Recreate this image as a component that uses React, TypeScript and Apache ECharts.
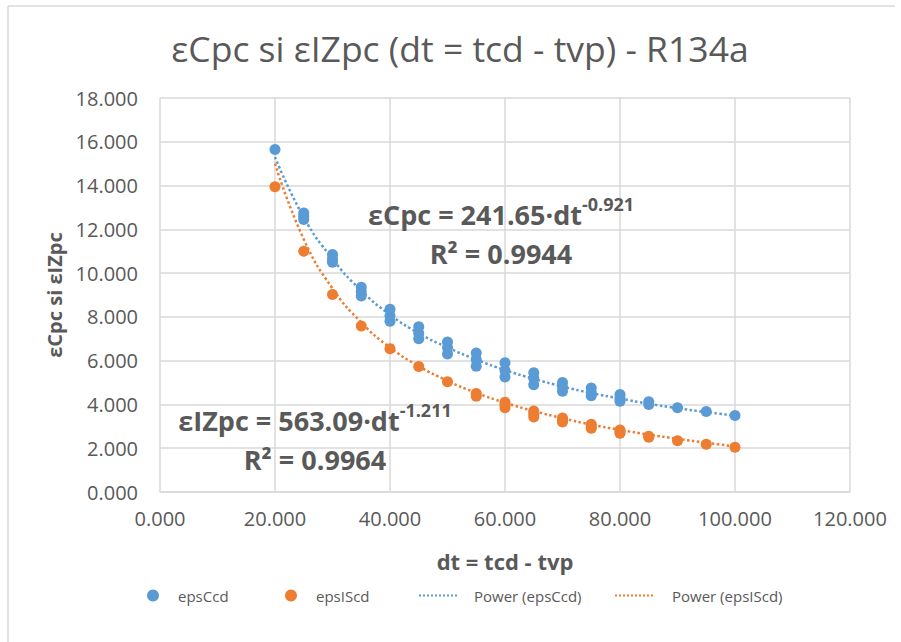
import React, { useEffect, useRef } from "react";
import * as echarts from "echarts";

const dtValues = [20, 25, 30, 35, 40, 45, 50, 55, 60, 65, 70, 75, 80, 85, 90, 95, 100];

const epsCcdGroups: number[][] = [
  [15.65],
  [12.45, 12.6, 12.75],
  [10.5, 10.65, 10.85],
  [8.95, 9.15, 9.35],
  [7.8, 8.05, 8.35],
  [7.0, 7.25, 7.55],
  [6.3, 6.6, 6.85],
  [5.75, 6.05, 6.35],
  [5.25, 5.55, 5.9],
  [4.9, 5.2, 5.45],
  [4.6, 4.8, 5.0],
  [4.4, 4.55, 4.75],
  [4.15, 4.3, 4.45],
  [4.0, 4.12],
  [3.85],
  [3.68],
  [3.5],
];

const epsIScdGroups: number[][] = [
  [13.95],
  [11.0],
  [9.02],
  [7.58],
  [6.55],
  [5.73],
  [5.04],
  [4.38, 4.5],
  [3.85, 3.98, 4.1],
  [3.43, 3.57, 3.7],
  [3.2, 3.3, 3.38],
  [2.91, 3.0, 3.1],
  [2.68, 2.76, 2.83],
  [2.5, 2.55],
  [2.34],
  [2.18],
  [2.04],
];

const powerCcd = [15.3, 12.55, 10.65, 9.2, 8.1, 7.25, 6.6, 6.05, 5.57, 5.17, 4.82, 4.52, 4.27, 4.03, 3.83, 3.65, 3.49];
const powerIScd = [15.0, 11.55, 9.3, 7.75, 6.6, 5.75, 5.08, 4.53, 4.08, 3.7, 3.37, 3.08, 2.84, 2.62, 2.43, 2.25, 2.08];

const xTicks = { min: 0, max: 120, interval: 20 };
const yTicks = { min: 0, max: 18, interval: 2 };

const titleText = "εCpc si εIZpc (dt = tcd - tvp) - R134a";
const xName = "dt = tcd - tvp";
const yName = "εCpc si εIZpc";
const seriesNames = ["epsCcd", "epsIScd", "Power (epsCcd)", "Power (epsIScd)"];
const eqCcd = ["εCpc = 241.65·dt", "-0.921", "R² = 0.9944"];
const eqIScd = ["εIZpc = 563.09·dt", "-1.211", "R² = 0.9964"];

const BLUE = "#5B9BD5";
const ORANGE = "#ED7D31";
const TXT = "#595959";
const GRID = "#d9d9d9";
const FONT = "'Open Sans', sans-serif";

function toPairs(groups: number[][]) {
  const out: number[][] = [];
  groups.forEach((g, i) => g.forEach((v) => out.push([dtValues[i], v])));
  return out;
}

export default function App() {
  const ref = useRef<HTMLDivElement>(null);
  useEffect(() => {
    document.body.style.margin = "0";
    if (!ref.current) return;
    const chart = echarts.init(ref.current, null, { renderer: "svg" });
    const legendBase = {
      orient: "horizontal",
      top: 588,
      padding: 0,
      itemWidth: 40,
      itemHeight: 12,
      textStyle: { color: TXT, fontSize: 15, fontFamily: FONT },
    };
    const richEq = {
      m: { fontSize: 27, fontWeight: "bold", fontFamily: FONT, fill: TXT, lineHeight: 39 },
      s: { fontSize: 18, fontWeight: "bold", fontFamily: FONT, fill: TXT, lineHeight: 36, verticalAlign: "top" },
    };
    chart.setOption({
      animation: false,
      backgroundColor: "#ffffff",
      title: {
        text: titleText,
        left: 455,
        top: 25,
        textAlign: "center",
        textStyle: { color: TXT, fontSize: 35.5, fontWeight: "normal", fontFamily: FONT },
      },
      grid: { left: 160, right: 51, top: 98, bottom: 150 },
      legend: [
        { ...legendBase, left: 147, data: [seriesNames[0]] },
        { ...legendBase, left: 285, data: [seriesNames[1]] },
        {
          ...legendBase,
          left: 418,
          data: [seriesNames[2]],
          itemStyle: { opacity: 0 },
          textStyle: { ...legendBase.textStyle, padding: [0, 0, 0, 10] },
        },
        {
          ...legendBase,
          left: 614,
          data: [seriesNames[3]],
          itemStyle: { opacity: 0 },
          textStyle: { ...legendBase.textStyle, padding: [0, 0, 0, 12] },
        },
      ],
      xAxis: {
        type: "value",
        min: xTicks.min,
        max: xTicks.max,
        interval: xTicks.interval,
        name: xName,
        nameLocation: "middle",
        nameGap: 58,
        nameTextStyle: { color: TXT, fontSize: 22, fontWeight: "bold", fontFamily: FONT },
        axisLine: { show: true, lineStyle: { color: GRID, width: 1.5 } },
        axisTick: { show: false },
        splitLine: { show: true, lineStyle: { color: GRID, width: 1.5 } },
        axisLabel: {
          color: TXT,
          fontSize: 20,
          fontFamily: FONT,
          margin: 16,
          formatter: (v: number) => v.toFixed(3),
        },
      },
      yAxis: {
        type: "value",
        min: yTicks.min,
        max: yTicks.max,
        interval: yTicks.interval,
        name: yName,
        nameLocation: "middle",
        nameGap: 92,
        nameTextStyle: { color: TXT, fontSize: 20, fontWeight: "bold", fontFamily: FONT },
        axisLine: { show: false },
        axisTick: { show: false },
        splitLine: { show: true, lineStyle: { color: GRID, width: 1.5 } },
        axisLabel: {
          color: TXT,
          fontSize: 20,
          fontFamily: FONT,
          margin: 22,
          formatter: (v: number) => v.toFixed(3),
        },
      },
      series: [
        {
          name: seriesNames[0],
          type: "scatter",
          data: toPairs(epsCcdGroups),
          symbol: "circle",
          symbolSize: 11,
          itemStyle: { color: BLUE, opacity: 1 },
          z: 5,
        },
        {
          name: seriesNames[1],
          type: "scatter",
          data: toPairs(epsIScdGroups),
          symbol: "circle",
          symbolSize: 11,
          itemStyle: { color: ORANGE, opacity: 1 },
          z: 5,
        },
        {
          name: seriesNames[2],
          type: "line",
          data: dtValues.map((d, i) => [d, powerCcd[i]]),
          smooth: true,
          symbol: "none",
          lineStyle: { color: BLUE, width: 2.5, type: "dotted" },
          itemStyle: { color: BLUE },
          z: 3,
        },
        {
          name: seriesNames[3],
          type: "line",
          data: dtValues.map((d, i) => [d, powerIScd[i]]),
          smooth: true,
          symbol: "none",
          lineStyle: { color: ORANGE, width: 2.5, type: "dotted" },
          itemStyle: { color: ORANGE },
          z: 3,
        },
      ],
      graphic: [
        { type: "line", shape: { x1: 8, y1: 6, x2: 895, y2: 6 }, style: { stroke: GRID, lineWidth: 1.5 } },
        { type: "line", shape: { x1: 8, y1: 6, x2: 8, y2: 642 }, style: { stroke: GRID, lineWidth: 1.5 } },
        {
          type: "text",
          x: 501,
          y: 234,
          z: 10,
          style: {
            text: `{m|${eqCcd[0]}}{s|${eqCcd[1]}}\n{m|${eqCcd[2]}}`,
            rich: richEq,
            align: "center",
            verticalAlign: "middle",
            fill: TXT,
          },
        },
        {
          type: "text",
          x: 315,
          y: 440,
          z: 10,
          style: {
            text: `{m|${eqIScd[0]}}{s|${eqIScd[1]}}\n{m|${eqIScd[2]}}`,
            rich: richEq,
            align: "center",
            verticalAlign: "middle",
            fill: TXT,
          },
        },
      ],
    });
    return () => chart.dispose();
  }, []);
  return <div ref={ref} style={{ width: 901, height: 642 }} />;
}
